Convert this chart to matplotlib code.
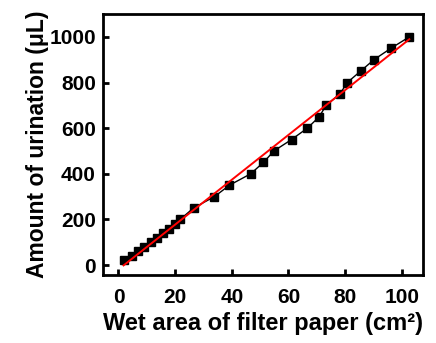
import matplotlib
matplotlib.use("Agg")
import matplotlib.pyplot as plt  # noqa: E402
import numpy as np  # noqa: E402

# Datos
area_cm2 = [1.8, 4.9, 6.8, 9.1, 11.5, 13.5, 15.6, 17.9, 20.0, 21.8,
            26.5, 33.9, 39.2, 46.7, 51.2, 54.9, 61.1, 66.7, 70.9, 73.3,
            78.2, 80.8, 85.5, 90.2, 96.2, 102.7]
volumen_ul = [20, 40, 60, 80, 100, 120, 140, 160, 180, 200,
              250, 300, 350, 400, 450, 500, 550, 600, 650, 700,
              750, 800, 850, 900, 950, 1000]
x_ticks = [0, 20, 40, 60, 80, 100]
y_ticks = [0, 200, 400, 600, 800, 1000]

plt.rcParams["font.family"] = ["Liberation Sans", "DejaVu Sans"]
plt.rcParams["font.weight"] = "bold"

fig, ax = plt.subplots(figsize=(4.36, 3.43), dpi=100)
fig.subplots_adjust(left=0.236, right=0.970, top=0.959, bottom=0.198)

ax.plot(area_cm2, volumen_ul, color="black", lw=1.0, marker="s",
        markersize=5.5, zorder=2)

# ajuste lineal
pend, ord0 = np.polyfit(area_cm2, volumen_ul, 1)
xf = np.array([min(area_cm2), max(area_cm2)])
ax.plot(xf, pend * xf + ord0, color="red", lw=1.4, zorder=3)

ax.set_xlim(-5.5, 107.5)
ax.set_ylim(-44, 1100)
ax.set_xticks(x_ticks)
ax.set_yticks(y_ticks)
ax.tick_params(direction="in", length=4, width=2, labelsize=15)
ax.tick_params(axis="x", pad=9)
ax.tick_params(axis="y", pad=5)
for lab in ax.get_xticklabels() + ax.get_yticklabels():
    lab.set_fontweight("bold")
for s in ax.spines.values():
    s.set_linewidth(2)

ax.set_xlabel("Wet area of filter paper (cm²)", fontsize=17,
              fontweight="bold", labelpad=4)
ax.set_ylabel("Amount of urination (μL)", fontsize=16.5,
              fontweight="bold", labelpad=0)

fig.savefig("out.png", dpi=100)
plt.close(fig)
